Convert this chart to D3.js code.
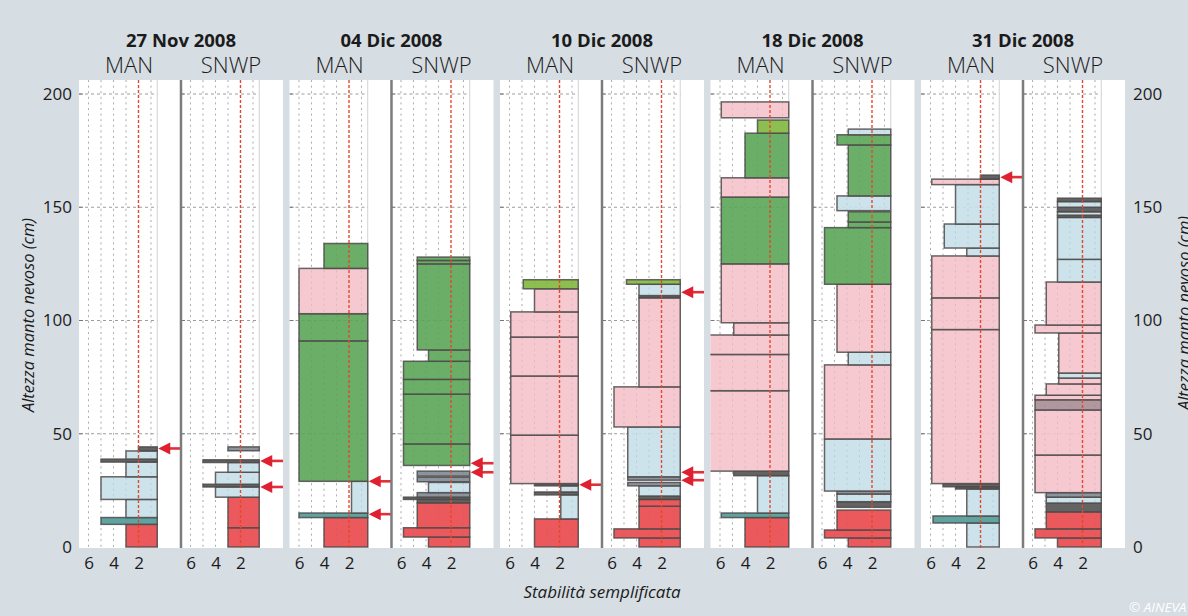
<!DOCTYPE html>
<html>
<head>
<meta charset="utf-8">
<script src="https://cdn.jsdelivr.net/npm/d3@7"></script>
<style>
  html, body { margin: 0; padding: 0; background: #d6dde3; }
  svg { display: block; font-family: "Open Sans", "Noto Sans", sans-serif; }
</style>
</head>
<body>
<svg id="chart" width="1188" height="616"></svg>
<script>
// Survey dates and the two profile sources shown for each date
const dates = ["27 Nov 2008", "04 Dic 2008", "10 Dic 2008", "18 Dic 2008", "31 Dic 2008"];
const methods = ["MAN", "SNWP"];
const yTicks = [0, 50, 100, 150, 200];
const xTicks = [6, 4, 2];
const xGrid = [6, 5, 4, 3, 1];
const threshold = 2;

// Layers: [bottom (cm), top (cm), simplified stability, layer class]
// classes: P pink, G green, Y yellow-green, B light blue, R red,
//          D dark thin layer, T teal thin layer, S slate band, M mauve band
const man_27Nov = [
  [0, 10, 3, "R"], [10, 13, 5, "T"], [13, 21, 3, "B"], [21, 31, 5, "B"],
  [31, 37.5, 3, "B"], [37.5, 38.8, 5, "D"], [38.8, 42.4, 3, "B"], [42.4, 44.2, 2, "D"]
];
const snwp_27Nov = [
  [0, 8.5, 3, "R"], [8.5, 22, 3, "R"], [22, 26.5, 4, "B"], [26.5, 27.7, 5, "D"],
  [27.7, 33, 4, "B"], [33, 37.3, 3, "B"], [37.3, 38.5, 5, "D"], [42.5, 44.2, 3, "S"]
];
const man_04Dic = [
  [0, 13, 4, "R"], [13, 15, 6, "T"], [15, 29, 1.8, "B"], [29, 91, 6, "G"],
  [91, 103, 6, "G"], [103, 123, 6, "P"], [123, 134, 4, "G"]
];
const snwp_04Dic = [
  [0, 4.4, 3.8, "R"], [4.4, 8.5, 5.8, "R"], [8.5, 19.5, 4.7, "R"], [19.5, 21, 4.7, "D"],
  [21, 22, 5.8, "D"], [22, 24, 4.7, "S"], [24, 28.5, 3.8, "B"], [28.8, 30.8, 4.7, "S"],
  [31.3, 33.5, 4.7, "S"], [36, 45.5, 5.8, "G"], [45.5, 67.5, 5.8, "G"], [67.5, 74, 5.8, "G"],
  [74, 82, 5.8, "G"], [82, 87, 3.8, "G"], [87, 125, 4.7, "G"], [125, 126.5, 4.7, "G"],
  [126.5, 128, 4.7, "G"]
];
const man_10Dic = [
  [0, 12.4, 4, "R"], [12.4, 23, 1.9, "B"], [23, 24.3, 4, "D"], [24.3, 27, 1.9, "B"],
  [27, 28, 4, "D"], [28, 49.4, 5.9, "P"], [49.4, 75.5, 5.9, "P"], [75.5, 92.7, 5.9, "P"],
  [92.7, 103.8, 5.9, "P"], [103.8, 114, 4, "P"], [114, 118, 4.9, "Y"]
];
const snwp_10Dic = [
  [0, 4, 3.8, "R"], [4, 8, 5.8, "R"], [8, 18, 3.8, "R"], [18, 21, 3.8, "R"],
  [21, 22.5, 3.8, "D"], [22.5, 27, 3.8, "B"], [27, 28.5, 4.7, "S"], [29.5, 31, 4.7, "S"],
  [31, 53, 4.7, "B"], [53, 70.7, 5.8, "P"], [70.7, 110, 3.8, "P"], [110, 111, 3.8, "D"],
  [111, 116, 3.8, "B"], [116, 118, 4.8, "Y"]
];
const man_18Dic = [
  [0, 13, 4, "R"], [13, 15, 5.9, "T"], [15, 31.5, 3, "B"], [31.5, 33.5, 4.9, "D"],
  [33.5, 69, 7, "P"], [69, 85, 7, "P"], [85, 93.6, 7, "P"], [93.6, 99, 4.9, "P"],
  [99, 125, 5.9, "P"], [125, 154.5, 5.9, "G"], [154.5, 163, 5.9, "P"], [163, 182.7, 4, "G"],
  [182.7, 188.5, 3, "Y"], [189.5, 196.5, 5.9, "P"]
];
const snwp_18Dic = [
  [0, 4, 3.9, "R"], [4, 7.5, 5.8, "R"], [7.5, 16.3, 4.8, "R"], [17.5, 20, 4.8, "D"],
  [20, 23.4, 4.8, "B"], [23.4, 24.7, 4.8, "S"], [24.7, 47.7, 5.8, "B"], [47.7, 80.4, 5.8, "P"],
  [80.4, 86, 3.9, "B"], [86, 116, 4.8, "P"], [116, 141, 5.8, "G"], [141, 143.5, 3.9, "G"],
  [143.5, 148, 3.9, "G"], [148.5, 155, 4.8, "B"], [155, 177.5, 3.9, "G"], [177.5, 182, 4.8, "G"],
  [182, 184.5, 3.9, "B"]
];
const man_31Dic = [
  [0, 10.6, 3.1, "B"], [10.6, 13.7, 5.8, "T"], [13.7, 25.6, 3.1, "B"], [25.6, 26.6, 4, "D"],
  [26.6, 28, 5, "D"], [28, 96, 5.9, "P"], [96, 110, 5.9, "P"], [110, 128.5, 5.9, "P"],
  [128.5, 132, 3.1, "B"], [132, 142.6, 4.9, "B"], [142.6, 160, 4, "B"], [160, 162.4, 5.9, "P"],
  [162.4, 164.2, 2, "D"]
];
const snwp_31Dic = [
  [0, 4, 4, "R"], [4, 8, 5.8, "R"], [8, 15.5, 4.9, "R"], [15.5, 19.4, 4.9, "D"],
  [19.4, 22, 4.9, "B"], [22, 24, 4.9, "S"], [24, 40.6, 5.8, "P"], [40.6, 60.5, 5.8, "P"],
  [60.5, 65, 5.8, "M"], [65, 67, 5.8, "P"], [67, 72, 4.9, "P"], [72, 74.6, 3.9, "P"],
  [74.6, 76.8, 3.9, "B"], [76.8, 94.5, 3.9, "P"], [94.5, 98, 5.8, "P"], [98, 117, 4.9, "P"],
  [117, 127, 4, "B"], [127, 145.5, 4, "B"], [145.5, 146.5, 4, "D"], [146.5, 148, 4, "B"],
  [148, 150, 4, "D"], [150, 152.5, 4, "B"], [152.5, 154, 4, "D"]
];

// Heights (cm) of the critical layers marked with an arrow
const arrowsMAN = [[43.5], [29, 14.5], [27.5], [], [163.3]];
const arrowsSNWP = [[38, 26.5], [37, 33], [112.5, 33, 29.5], [], []];

const profiles = [
  [man_27Nov, snwp_27Nov],
  [man_04Dic, snwp_04Dic],
  [man_10Dic, snwp_10Dic],
  [man_18Dic, snwp_18Dic],
  [man_31Dic, snwp_31Dic]
];
const arrows = [arrowsMAN, arrowsSNWP];

const layerColors = {
  P: "#f5c3cc", G: "#5aa558", Y: "#80b83c", B: "#c6e0ea", R: "#e9474b",
  D: "#525252", T: "#4f9a98", S: "#7f8a92", M: "#a98c94"
};

const svg = d3.select("#chart");
const W = 1188, H = 616;
const plotTop = 80, plotBottom = 548;
const textColor = "#1b1b1b";

const panelX = d3.scaleBand().domain(dates).range([79, 1125]).paddingInner(0.031).paddingOuter(0);
const subX = d3.scaleBand().domain(methods).range([0, panelX.bandwidth()]);
const y = d3.scaleLinear().domain([0, 200]).range([547, 94]);
const x = d3.scaleLinear().domain([6.76, -1.4]).range([0, subX.bandwidth()]);
const barEnd = 0.5;

svg.append("rect").attr("width", W).attr("height", H).attr("fill", "#d6dde3");

const defs = svg.append("defs");
defs.append("clipPath").attr("id", "subclip")
  .append("rect").attr("x", 0).attr("y", plotTop)
  .attr("width", subX.bandwidth()).attr("height", plotBottom - plotTop);

dates.forEach((d, i) => {
  const g = svg.append("g").attr("transform", `translate(${panelX(d)},0)`);

  g.append("rect")
    .attr("x", 0).attr("y", plotTop)
    .attr("width", panelX.bandwidth()).attr("height", plotBottom - plotTop)
    .attr("fill", "#ffffff");

  g.append("text")
    .attr("x", panelX.bandwidth() / 2).attr("y", 47)
    .attr("text-anchor", "middle")
    .attr("font-size", 18.5).attr("font-weight", 700)
    .attr("fill", textColor)
    .text(d);

  methods.forEach((m, j) => {
    const sg = g.append("g").attr("transform", `translate(${subX(m)},0)`);

    sg.append("text")
      .attr("x", subX.bandwidth() / 2 - 1).attr("y", 73)
      .attr("text-anchor", "middle")
      .attr("font-size", 22).attr("font-weight", 300)
      .attr("fill", textColor)
      .text(m);

    const body = sg.append("g").attr("clip-path", "url(#subclip)");

    // background grid
    body.selectAll("line.vgrid").data(xGrid).join("line")
      .attr("x1", v => x(v)).attr("x2", v => x(v))
      .attr("y1", plotTop).attr("y2", plotBottom)
      .attr("stroke", "#b9b9b9").attr("stroke-width", 1)
      .attr("stroke-dasharray", "2,3.6");
    body.append("line")
      .attr("x1", x(barEnd)).attr("x2", x(barEnd))
      .attr("y1", plotTop).attr("y2", plotBottom)
      .attr("stroke", "#d2d2d2").attr("stroke-width", 1);
    body.selectAll("line.hgrid").data(yTicks.filter(t => t > 0)).join("line")
      .attr("x1", 0).attr("x2", x(barEnd))
      .attr("y1", t => y(t)).attr("y2", t => y(t))
      .attr("stroke", "#9c9c9c").attr("stroke-width", 1)
      .attr("stroke-dasharray", "3,3");
    body.selectAll("line.htick").data(yTicks.filter(t => t > 0)).join("line")
      .attr("x1", 0).attr("x2", 4)
      .attr("y1", t => y(t)).attr("y2", t => y(t))
      .attr("stroke", "#777").attr("stroke-width", 1);

    // snow layers
    body.selectAll("rect.layer").data(profiles[i][j]).join("rect")
      .attr("class", "layer")
      .attr("x", l => x(l[2]))
      .attr("width", l => x(barEnd) - x(l[2]))
      .attr("y", l => y(l[1]))
      .attr("height", l => y(l[0]) - y(l[1]))
      .attr("fill", l => layerColors[l[3]])
      .attr("fill-opacity", 0.9)
      .attr("stroke", "#4e4a4a").attr("stroke-opacity", 0.85)
      .attr("stroke-width", 1.5);

    // faint grid seen through the layers
    body.selectAll("line.vgrid2").data(xGrid).join("line")
      .attr("x1", v => x(v)).attr("x2", v => x(v))
      .attr("y1", plotTop).attr("y2", plotBottom)
      .attr("stroke", "#8a8a8a").attr("stroke-opacity", 0.18).attr("stroke-width", 1)
      .attr("stroke-dasharray", "2,3.6");

    // stability threshold
    body.append("line")
      .attr("x1", x(threshold)).attr("x2", x(threshold))
      .attr("y1", plotTop).attr("y2", plotBottom)
      .attr("stroke", "#e2482e").attr("stroke-width", 1.4)
      .attr("stroke-dasharray", "3,2");

    // arrows pointing at critical layers
    const ag = sg.append("g");
    arrows[j][i].forEach(h => {
      const tip = x(barEnd) + 1;
      ag.append("line")
        .attr("x1", tip + 8).attr("x2", subX.bandwidth())
        .attr("y1", y(h)).attr("y2", y(h))
        .attr("stroke", "#e2303a").attr("stroke-width", 2.6);
      ag.append("path")
        .attr("d", `M${tip},${y(h)} L${tip + 12},${y(h) - 6} L${tip + 12},${y(h) + 6} Z`)
        .attr("fill", "#df2030");
    });

    // stability axis labels
    const xa = sg.append("g")
      .attr("transform", `translate(0,${plotBottom})`)
      .call(d3.axisBottom(x).tickValues(xTicks).tickSize(0).tickPadding(8.5).tickFormat(d3.format("d")));
    xa.select(".domain").remove();
    xa.selectAll("text").attr("font-size", 17).attr("fill", textColor)
      .attr("font-family", "\"Open Sans\", sans-serif");
  });

  // divider between MAN and SNWP
  g.append("line")
    .attr("x1", subX("SNWP")).attr("x2", subX("SNWP"))
    .attr("y1", plotTop).attr("y2", plotBottom)
    .attr("stroke", "#7c7c7c").attr("stroke-width", 2.5);
});

// height axes
const yl = svg.append("g").attr("transform", `translate(79,0)`)
  .call(d3.axisLeft(y).tickValues(yTicks).tickSize(0).tickPadding(7));
const yr = svg.append("g").attr("transform", `translate(1125,0)`)
  .call(d3.axisRight(y).tickValues(yTicks).tickSize(0).tickPadding(8));
[yl, yr].forEach(a => {
  a.select(".domain").remove();
  a.selectAll("text").attr("font-size", 17).attr("fill", textColor)
    .attr("font-family", "\"Open Sans\", sans-serif");
});

const yTitle = "Altezza manto nevoso (cm)";
svg.append("text")
  .attr("transform", `translate(34,315) rotate(-90)`)
  .attr("text-anchor", "middle")
  .attr("font-size", 16.5).attr("font-style", "italic").attr("fill", textColor)
  .text(yTitle);
svg.append("text")
  .attr("transform", `translate(1190,313) rotate(-90)`)
  .attr("text-anchor", "middle")
  .attr("font-size", 16.5).attr("font-style", "italic").attr("fill", textColor)
  .text(yTitle);

svg.append("text")
  .attr("x", panelX(dates[2]) + panelX.bandwidth() / 2).attr("y", 598)
  .attr("text-anchor", "middle")
  .attr("font-size", 17).attr("font-style", "italic").attr("fill", textColor)
  .text("Stabilità semplificata");

svg.append("text")
  .attr("x", 1129).attr("y", 612)
  .attr("font-size", 13.5).attr("font-style", "italic").attr("fill", "#ffffff")
  .text("© AINEVA");
</script>
</body>
</html>
